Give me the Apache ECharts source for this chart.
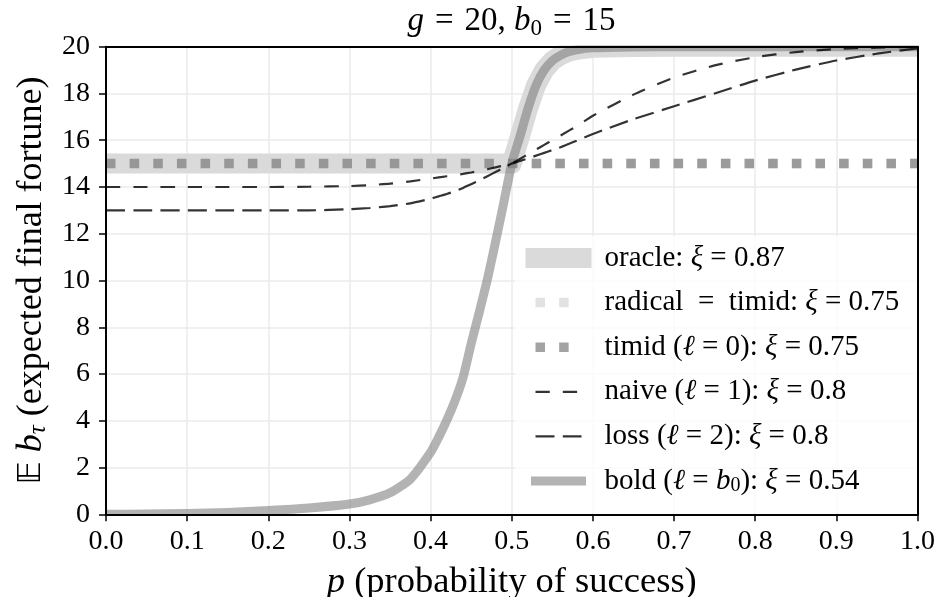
<!DOCTYPE html>
<html><head><meta charset="utf-8">
<script src="https://cdn.jsdelivr.net/npm/echarts@6/dist/echarts.min.js"></script>
<style>html,body{margin:0;padding:0;background:#fff}#c{width:941px;height:597px}</style>
</head><body><div id="c"></div>
<script>
// ---- data ----
const pValues = [0, 0.05, 0.1, 0.15, 0.2, 0.25, 0.3, 0.325, 0.35, 0.375, 0.4, 0.41, 0.42, 0.43, 0.44, 0.45, 0.46, 0.47, 0.48, 0.49, 0.5, 0.51, 0.52, 0.53, 0.54, 0.55, 0.56, 0.57, 0.58, 0.6, 0.65, 0.7, 0.75, 0.8, 0.85, 0.9, 0.95, 1.0];
const oracleValues = [15, 15, 15, 15, 15, 15, 15, 15, 15, 15, 15, 15, 15, 15, 15, 15, 15, 15, 15, 15, 15, 16.15, 17.35, 18.35, 19.0, 19.4, 19.63, 19.78, 19.87, 19.95, 19.99, 20, 20, 20, 20, 20, 20, 20];
const boldValues = [0, 0.01, 0.03, 0.08, 0.16, 0.27, 0.44, 0.62, 0.92, 1.5, 2.65, 3.3, 4.03, 4.85, 5.85, 7.3, 8.65, 10.05, 11.65, 13.3, 15, 16.15, 17.35, 18.35, 19.0, 19.4, 19.63, 19.78, 19.87, 19.95, 19.99, 20, 20, 20, 20, 20, 20, 20];
const naiveValues = [14, 14, 14, 14, 14, 14.01, 14.04, 14.08, 14.14, 14.24, 14.36, 14.41, 14.46, 14.51, 14.56, 14.62, 14.69, 14.76, 14.84, 14.92, 15, 15.2, 15.4, 15.6, 15.8, 16.0, 16.2, 16.4, 16.6, 17.05, 17.95, 18.68, 19.2, 19.55, 19.77, 19.9, 19.96, 20];
const lossValues = [13, 13, 13, 13, 13, 13, 13.05, 13.1, 13.18, 13.3, 13.5, 13.6, 13.7, 13.82, 13.96, 14.12, 14.28, 14.46, 14.64, 14.82, 15, 15.11, 15.22, 15.34, 15.46, 15.58, 15.7, 15.84, 15.98, 16.27, 16.9, 17.45, 18.0, 18.55, 19.02, 19.41, 19.7, 19.93];
const flatP = [0, 1];
const timidValues = [15, 15];
const radicalValues = [15, 15];
const seriesNames = ['oracle', 'radical', 'timid', 'naive', 'loss', 'bold'];
const legendLabels = {
  oracle: 'oracle: {i|ξ} = 0.87',
  radical: 'radical\u2002=\u2002timid: {i|ξ} = 0.75',
  timid: 'timid ({i|ℓ} = 0): {i|ξ} = 0.75',
  naive: 'naive ({i|ℓ} = 1): {i|ξ} = 0.8',
  loss: 'loss ({i|ℓ} = 2): {i|ξ} = 0.8',
  bold: 'bold ({i|ℓ} = {i|b}{sub|0}): {i|ξ} = 0.54'
};
const titleText = '{i|g}\u2004=\u200420, {i|b}{sub|0}\u2004=\u200415';
const xName = '{i|p} (probability of success)';
const yName = '{bb|𝔼} {i|b}{subi|τ} (expected final fortune)';

// ---- styles ----
const FONT = 'Liberation Serif';
const C = {
  oracle: '#dadada',
  radical: 'rgba(211,211,211,0.65)',
  timid: 'rgba(128,128,128,0.72)',
  naive: 'rgba(0,0,0,0.8)',
  loss: 'rgba(0,0,0,0.8)',
  bold: 'rgba(128,128,128,0.6)'
};
const DOT = [9.5, 14.15];
const NAIVE_DASH = [14.3, 13];
const LOSS_DASH = [19, 8.3];

function pts(xs, ys) { return xs.map((x, i) => [x, ys[i]]); }
function richSet(size, lh) {
  return {
    i: {fontStyle: 'italic', fontFamily: FONT, fontSize: size, lineHeight: lh},
    sub: {fontFamily: FONT, fontSize: Math.round(size * 0.7), lineHeight: Math.round(size * 0.7), verticalAlign: 'bottom'},
    subi: {fontFamily: FONT, fontStyle: 'italic', fontSize: Math.round(size * 0.7), lineHeight: Math.round(size * 0.7), verticalAlign: 'bottom'},
    bb: {fontFamily: 'DejaVu Sans', fontSize: Math.round(size * 0.9), lineHeight: lh}
  };
}

const grid = {left: 106, right: 23.5, top: 46.7, bottom: 82.7, containLabel: false,
  outerBoundsMode: 'none', outerBounds: {left: -300, right: -300, top: -300, bottom: -300}};
const lineBase = {type: 'line', symbol: 'none', showSymbol: false, silent: true, animation: false, clip: true, emphasis: {disabled: true}};

const chart = echarts.init(document.getElementById('c'), null, {renderer: 'canvas'});
chart.setOption({
  backgroundColor: '#fff',
  animation: false,
  grid: grid,
  title: [
    {text: ' ', left: 0, top: 0, padding: [22, 471, 22.5, 471], backgroundColor: '#fff', textStyle: {fontSize: 1, lineHeight: 1}, z: 7},
    {text: ' ', left: 0, top: 515.5, padding: [40, 471, 42, 471], backgroundColor: '#fff', textStyle: {fontSize: 1, lineHeight: 1}, z: 7},
    {text: titleText, left: 511.5, textAlign: 'center', top: 2, padding: 0, z: 12,
     textStyle: {fontFamily: FONT, fontSize: 33, fontWeight: 'normal', color: '#000', lineHeight: 38, rich: richSet(33, 38)}}
  ],
  legend: {
    orient: 'vertical', left: 515, top: 236, padding: [7, 20, 17, 10.5],
    backgroundColor: 'rgba(255,255,255,0.8)', borderWidth: 0,
    itemWidth: 46, itemHeight: 20, itemGap: 14.6, selectedMode: false, z: 8,
    formatter: name => legendLabels[name],
    textStyle: {fontFamily: FONT, fontSize: 29, color: '#000', lineHeight: 30, padding: [0, 0, 0, 18], rich: richSet(29, 30)},
    data: [
      {name: 'oracle', itemStyle: {opacity: 0}, lineStyle: {color: C.oracle, width: 20, type: 'solid', cap: 'square'}},
      {name: 'radical', itemStyle: {opacity: 0}, lineStyle: {color: C.radical, width: 9.5, type: DOT, cap: 'butt'}},
      {name: 'timid', itemStyle: {opacity: 0}, lineStyle: {color: C.timid, width: 9.5, type: DOT, cap: 'butt'}},
      {name: 'naive', itemStyle: {opacity: 0}, lineStyle: {color: C.naive, width: 2.2, type: NAIVE_DASH, cap: 'butt'}},
      {name: 'loss', itemStyle: {opacity: 0}, lineStyle: {color: C.loss, width: 2.2, type: LOSS_DASH, cap: 'butt'}},
      {name: 'bold', itemStyle: {opacity: 0}, lineStyle: {color: C.bold, width: 9, type: 'solid', cap: 'square'}}
    ]
  },
  xAxis: [
    {type: 'value', min: 0, max: 1, interval: 0.1, position: 'bottom', z: 0,
     axisLine: {show: false}, axisTick: {show: false}, axisLabel: {show: false},
     splitLine: {show: true, lineStyle: {color: '#ebebeb', width: 1.5}}},
    {type: 'value', min: 0, max: 1, interval: 0.1, position: 'bottom', z: 10,
     axisLine: {show: true, onZero: false, lineStyle: {color: '#000', width: 2}},
     axisTick: {show: true, length: 7, lineStyle: {color: '#000', width: 1.5}},
     axisLabel: {show: true, margin: 13, formatter: v => v.toFixed(1), fontFamily: FONT, fontSize: 28, color: '#000'},
     splitLine: {show: false},
     name: xName, nameLocation: 'middle', nameGap: 48,
     nameTextStyle: {fontFamily: FONT, fontSize: 36.5, color: '#000', lineHeight: 40, rich: richSet(36.5, 40)}},
    {type: 'value', min: 0, max: 1, position: 'top', z: 10,
     axisLine: {show: true, onZero: false, lineStyle: {color: '#000', width: 2}},
     axisTick: {show: false}, axisLabel: {show: false}, splitLine: {show: false}}
  ],
  yAxis: [
    {type: 'value', min: 0, max: 20, interval: 2, position: 'left', z: 0,
     axisLine: {show: false}, axisTick: {show: false}, axisLabel: {show: false},
     splitLine: {show: true, lineStyle: {color: '#ebebeb', width: 1.5}}},
    {type: 'value', min: 0, max: 20, interval: 2, position: 'left', z: 10,
     axisLine: {show: true, onZero: false, lineStyle: {color: '#000', width: 2}},
     axisTick: {show: true, length: 7, lineStyle: {color: '#000', width: 1.5}},
     axisLabel: {show: true, margin: 16, fontFamily: FONT, fontSize: 28, color: '#000'},
     splitLine: {show: false},
     name: yName, nameLocation: 'middle', nameRotate: 90, nameGap: 55,
     nameTextStyle: {fontFamily: FONT, fontSize: 36, color: '#000', lineHeight: 38, rich: richSet(36, 38)}},
    {type: 'value', min: 0, max: 20, position: 'right', z: 10,
     axisLine: {show: true, onZero: false, lineStyle: {color: '#000', width: 2}},
     axisTick: {show: false}, axisLabel: {show: false}, splitLine: {show: false}}
  ],
  series: [
    Object.assign({}, lineBase, {name: 'oracle', data: pts(pValues, oracleValues),
      lineStyle: {color: C.oracle, width: 20, join: 'round', cap: 'butt'}}),
    Object.assign({}, lineBase, {name: 'radical', data: pts(flatP, radicalValues),
      lineStyle: {color: C.radical, width: 9.5, type: DOT, cap: 'butt'}}),
    Object.assign({}, lineBase, {name: 'timid', data: pts(flatP, timidValues),
      lineStyle: {color: C.timid, width: 9.5, type: DOT, cap: 'butt'}}),
    Object.assign({}, lineBase, {name: 'bold', data: pts(pValues, boldValues), smooth: 0.2,
      lineStyle: {color: C.bold, width: 9, join: 'round', cap: 'butt'}}),
    Object.assign({}, lineBase, {name: 'naive', data: pts(pValues, naiveValues), smooth: 0.2,
      lineStyle: {color: C.naive, width: 2.2, type: NAIVE_DASH}}),
    Object.assign({}, lineBase, {name: 'loss', data: pts(pValues, lossValues), smooth: 0.2,
      lineStyle: {color: C.loss, width: 2.2, type: LOSS_DASH}})
  ]
});
</script>
</body></html>
